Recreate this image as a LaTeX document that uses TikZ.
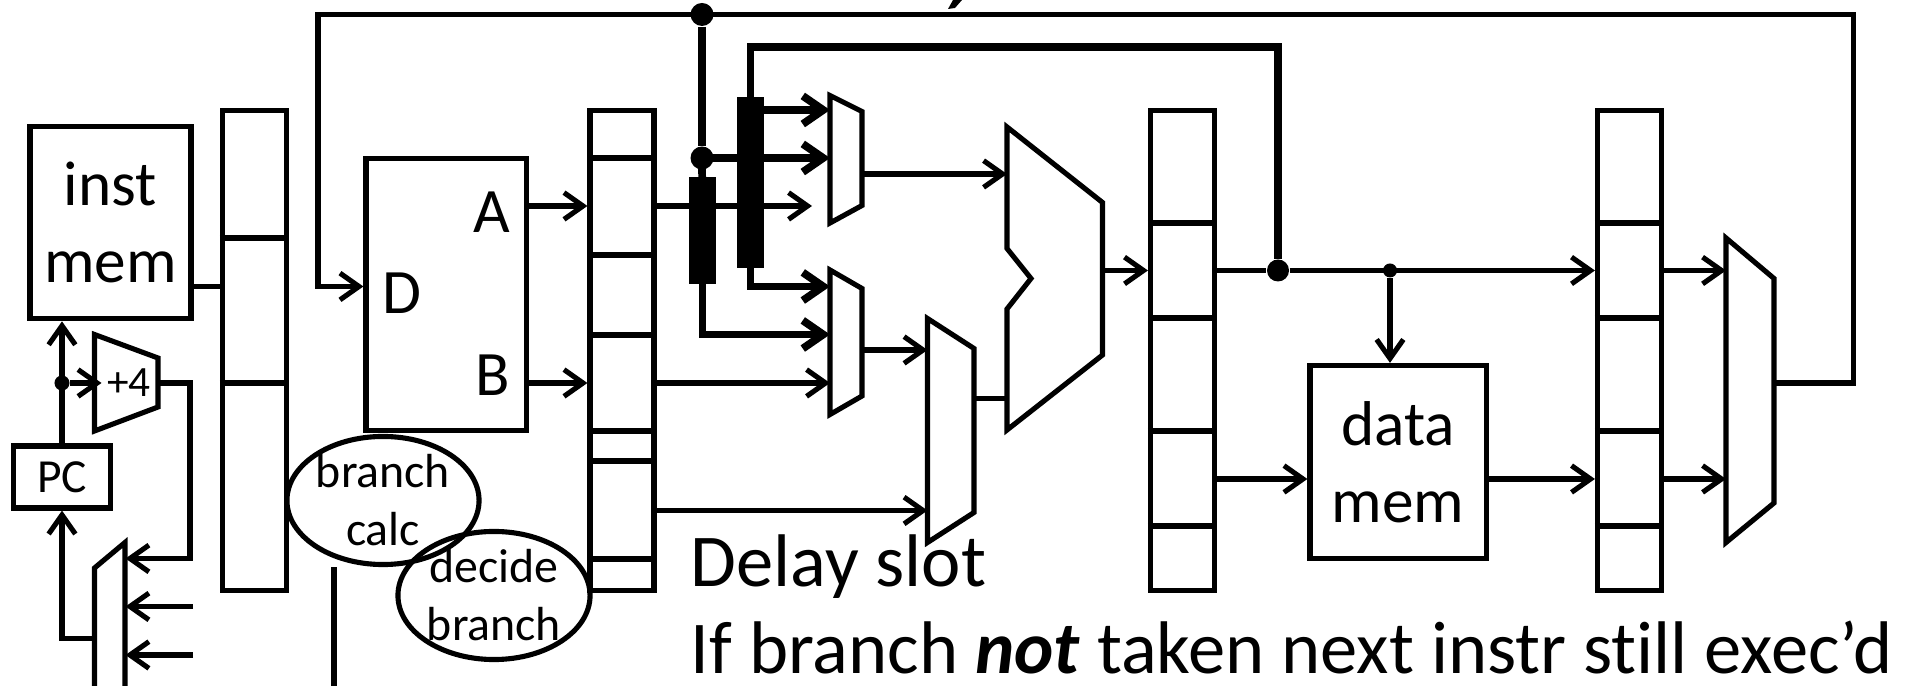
\documentclass[tikz,border=0pt]{standalone}
\usepackage{fontspec}
\setmainfont{Carlito}[Ligatures=NoCommon]
\usetikzlibrary{positioning,calc,shapes.geometric,arrows.meta}
\tikzset{
wire/.style={line width=1.45pt},
heavy/.style={line width=2.2pt},
flow/.style={wire,-{Straight Barb[length=5.4pt,width=7.6pt]}},
heavyflow/.style={heavy,-{Straight Barb[length=5.8pt,width=8pt]}},
unitbox/.style={draw,line width=1.45pt,inner sep=0pt,align=center,font=\fontsize{18}{21.8}\selectfont},
pipereg/.style={draw,line width=1.45pt,inner sep=0pt,minimum width=6.4mm,minimum height=48mm},
forwardbar/.style={fill=black,inner sep=0pt,minimum width=2.7mm},
bubble/.style={ellipse,draw,line width=1.45pt,inner sep=0pt,minimum width=19.2mm,minimum height=12.8mm},
bubbletext/.style={inner sep=0pt,align=center,font=\fontsize{13.6}{16.6}\selectfont},
portletter/.style={inner sep=0pt,font=\fontsize{18}{20}\selectfont},
muxshape/.style={draw,line width=1.45pt,line join=miter},
dot/.style={circle,fill=black,inner sep=0pt,minimum size=#1},
slide/.style={anchor=base west,inner sep=0pt,font=\fontsize{21.2}{24}\selectfont}
}
\begin{document}
\begin{tikzpicture}[x=0.01cm,y=-0.01cm]
\useasboundingbox (0,0) rectangle (1927,686);
% pipeline registers
\node[pipereg] (regA) at (254.5,350.5) {};
\node[pipereg] (regB) at (622,350.5) {};
\node[pipereg] (regC) at (1182.5,350.5) {};
\node[pipereg] (regD) at (1629.5,350.5) {};
\foreach \y in {238,383}
  \draw[wire] (regA.west |- 0,\y) -- (regA.east |- 0,\y);
\foreach \y in {158,255,335,431,461,559}
  \draw[wire] (regB.west |- 0,\y) -- (regB.east |- 0,\y);
\foreach \y in {223,318,431,526} {
  \draw[wire] (regC.west |- 0,\y) -- (regC.east |- 0,\y);
  \draw[wire] (regD.west |- 0,\y) -- (regD.east |- 0,\y);
}
% units
\node[unitbox,minimum width=16.1mm,minimum height=19.25mm] (instmem) at (110.5,222.5) {inst\\mem};
\node[unitbox,minimum width=9.7mm,minimum height=6.2mm,font=\fontsize{13.5}{16}\selectfont] (pc) at (62,477) {PC};
\node[draw,line width=1.45pt,minimum width=16mm,minimum height=27.1mm] (regfile) at (446,294.5) {};
\node[portletter,anchor=base] (portD) at (402,314) {D};
\node[portletter,anchor=base] (portA) at (492,233) {A};
\node[portletter,anchor=base] (portB) at (493,396) {B};
\node[unitbox,minimum width=17.6mm,minimum height=19.3mm] (datamem) at (1398,462) {data\\mem};
% branch bubbles
\node[bubble] (calc) at (383,500.5) {};
\node[bubbletext] (calctext) at (383,500) {branch\\calc};
\node[bubble] (decide) at (494,595.5) {};
\node[bubbletext] (decidetext) at (494,595) {decide\\branch};
% muxes and adders
\draw[muxshape] (94.5,334.5) -- (158,358) -- (158,407) -- (94.5,431) -- cycle;
\node[inner sep=0pt,font=\fontsize{12.3}{14}\selectfont] (plusfour) at (129,383) {+4};
\draw[muxshape] (94.5,686) -- (94.5,568) -- (125,542.5) -- (125,686);
\draw[muxshape] (830,95.5) -- (862,111.5) -- (862,205.5) -- (830,223) -- cycle;
\draw[muxshape] (830,270) -- (862,288.5) -- (862,396) -- (830,414.5) -- cycle;
\draw[muxshape] (927.5,318.5) -- (974,348.5) -- (974,512.5) -- (927.5,542.5) -- cycle;
\draw[muxshape] (1007,127) -- (1102.5,202.5) -- (1102.5,355) -- (1007,430) -- (1007,309) -- (1031,278.5) -- (1007,248.5) -- cycle;
\draw[muxshape] (1726,238) -- (1774,278.5) -- (1774,503) -- (1726,542.5) -- cycle;
\fill (948,9) -- (953,0) -- (962,0) -- (955,8) -- cycle;
\coordinate (pcmux) at (125.5,600);
\coordinate (pcmuxout) at (94.5,638.5);
\coordinate (adder) at (101.5,383);
\coordinate (adderout) at (158,383);
\coordinate (muxA) at (830,160);
\coordinate (muxB) at (830,340);
\coordinate (muxC) at (927.5,430);
\coordinate (alu) at (1007,270);
\coordinate (aluout) at (1102.5,270.5);
\coordinate (muxD) at (1726,390);
\coordinate (wbout) at (1774,383);
\coordinate (wbtop) at (1853.5,14.5);
\coordinate (regtop) at (318,14.5);
\coordinate (forwardtop) at (1278,47);
\coordinate (calcwire) at (334,686);
\coordinate (pcfeedA) at (193,606.5);
\coordinate (pcfeedB) at (193,655);
\coordinate (stub) at (812,206);
% forwarding
\node[dot=2.3mm] (topdot) at (702,14.5) {};
\node[dot=2.3mm] (middot) at (702,158) {};
\node[forwardbar,minimum height=10.65mm] (barA) at (702.5,230.5) {};
\node[forwardbar,minimum height=17.07mm] (barB) at (750.5,182.5) {};
\node[dot=2.2mm] (aludot) at (1278,270.5) {};
\node[dot=1.4mm] (memdot) at (1390,270.5) {};
\node[dot=1.5mm] (pcdot) at (62,383) {};
% fetch
\draw[flow] (pc.north) -- (instmem.south -| pc.north);
\draw[flow] (pcdot) -- (adder);
\draw[flow] (adderout) -- (190,383) -- (190,558.5) -- (pcmux |- 0,558.5);
\draw[flow] (pcfeedA) -- (pcmux |- pcfeedA);
\draw[flow] (pcfeedB) -- (pcmux |- pcfeedB);
\draw[flow] (pcmuxout) -- (pc.south |- pcmuxout) -- (pc.south);
\draw[wire] (instmem.east |- 0,286.5) -- (regA.west |- 0,286.5);
\draw[wire] (calc.south -| calcwire) -- (calcwire);
% decode
\draw[flow] (wbout) -- (wbtop |- wbout) -- (wbtop) -- (regtop) -- (regtop |- 0,286.5) -- (regfile.west |- 0,286.5);
\draw[flow] (regfile.east |- 0,206) -- (regB.west |- 0,206);
\draw[flow] (regfile.east |- 0,383) -- (regB.west |- 0,383);
% execute
\draw[heavy] (topdot) -- (middot);
\draw[heavy] (middot.center) -- (barA.center);
\draw[heavyflow] (barB.center |- 0,110) -- (muxA |- 0,110);
\draw[heavyflow] (middot.center) -- (muxA |- middot);
\draw[heavy] (barB.center) -- (barB.center |- forwardtop) -- (forwardtop) -- (aludot);
\draw[flow] (regB.east |- stub) -- (stub);
\draw[heavyflow] (barB.center) -- (barB.center |- 0,286.5) -- (muxB |- 0,286.5);
\draw[heavyflow] (barA.center) -- (barA.center |- 0,334.5) -- (muxB |- 0,334.5);
\draw[flow] (regB.east |- 0,383) -- (muxB |- 0,383);
\draw[flow] (862,174) -- (alu |- 0,174);
\draw[flow] (862,350) -- (muxC |- 0,350);
\draw[flow] (regB.east |- 0,510.5) -- (muxC |- 0,510.5);
\draw[wire] (974,398.5) -- (alu |- 0,398.5);
\draw[flow] (aluout) -- (regC.west |- aluout);
% memory
\draw[wire] (regC.east |- aludot) -- (aludot);
\draw[flow] (aludot) -- (regD.west |- aludot);
\draw[flow] (memdot) -- (memdot |- datamem.north);
\draw[flow] (regC.east |- 0,479) -- (datamem.west |- 0,479);
\draw[flow] (datamem.east |- 0,479) -- (regD.west |- 0,479);
\draw[flow] (regD.east |- 0,270.5) -- (muxD |- 0,270.5);
\draw[flow] (regD.east |- 0,479) -- (muxD |- 0,479);
% text
\node[slide] (delay) at (690,587) {Delay slot};
\node[slide] (notetaken) at (690,674) {If branch \textbf{\textit{not}} taken next instr still exec’d};
\end{tikzpicture}
\end{document}
